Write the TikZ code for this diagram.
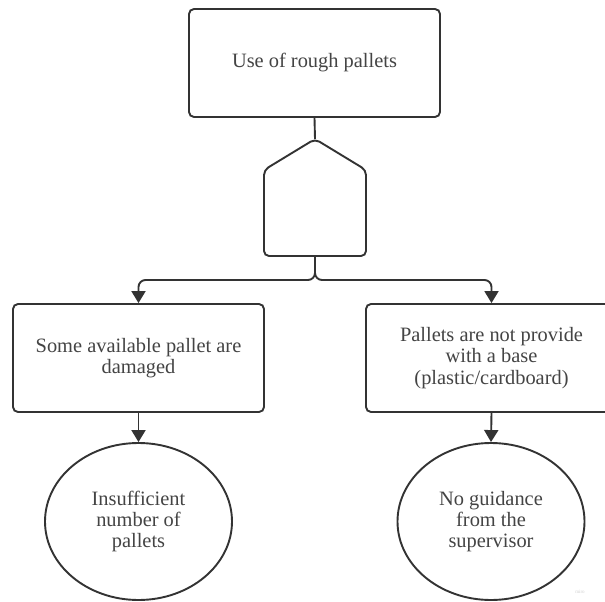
\documentclass[tikz,border=0pt]{standalone}
\usepackage{fontspec}
\setmainfont{Liberation Serif}
\usepackage{tikz}
\usetikzlibrary{arrows.meta,shapes.geometric}
\definecolor{linegray}{HTML}{333333}
\definecolor{textgray}{HTML}{444444}

\begin{document}
\begin{tikzpicture}[x=1pt, y=1pt, yscale=-1,
  box/.style={draw=linegray, line width=1.9pt, rounded corners=5pt, fill=white, minimum width=251pt, minimum height=108pt, align=center, text=textgray, font=\fontsize{20.4}{21.5}\selectfont},
  cause/.style={ellipse, draw=linegray, line width=1.9pt, minimum width=187pt, minimum height=157pt, inner sep=0pt, align=center, text=textgray, font=\fontsize{20.4}{21}\selectfont},
  wire/.style={draw=linegray, line width=1.9pt},
  link/.style={wire, -{Triangle[width=14pt,length=12pt]}}]
\useasboundingbox (0,0) rectangle (605,602);
\clip (0,0) rectangle (605,602);
\fill[white] (0,0) rectangle (605,602);
\node[box] (top) at (314.5,63) {Use of rough pallets};
\coordinate (gtop) at (315,139);
\coordinate (gbot) at (315,256);
\coordinate (bus) at (315,280);
\draw[wire, rounded corners=5pt] (gtop) -- (366,170) -- (366,256) -- (264,256) -- (264,170) -- cycle;
\node[box] (left) at (138.5,358) {Some available pallet are\\damaged};
\node[box] (right) at (491.5,358) {Pallets are not provide\\with a base\\(plastic/cardboard)};
\node[cause] (lcause) at (138.5,521.5) {Insufficient\\number of\\pallets};
\node[cause] (rcause) at (491,521.5) {No guidance\\from the\\supervisor};
\node[text=gray!35, font=\fontsize{5}{6}\selectfont] (mark) at (580,592) {miro};
\draw[wire] (top.south) -- (gtop);
\draw[link, rounded corners=7pt] (gbot) -- (bus) -| (left.north);
\draw[link, rounded corners=7pt] (gbot) -- (bus) -| (right.north);
\draw[link] (left.south) -- (lcause.north);
\draw[link] (right.south) -- (rcause.north);
\end{tikzpicture}
\end{document}
